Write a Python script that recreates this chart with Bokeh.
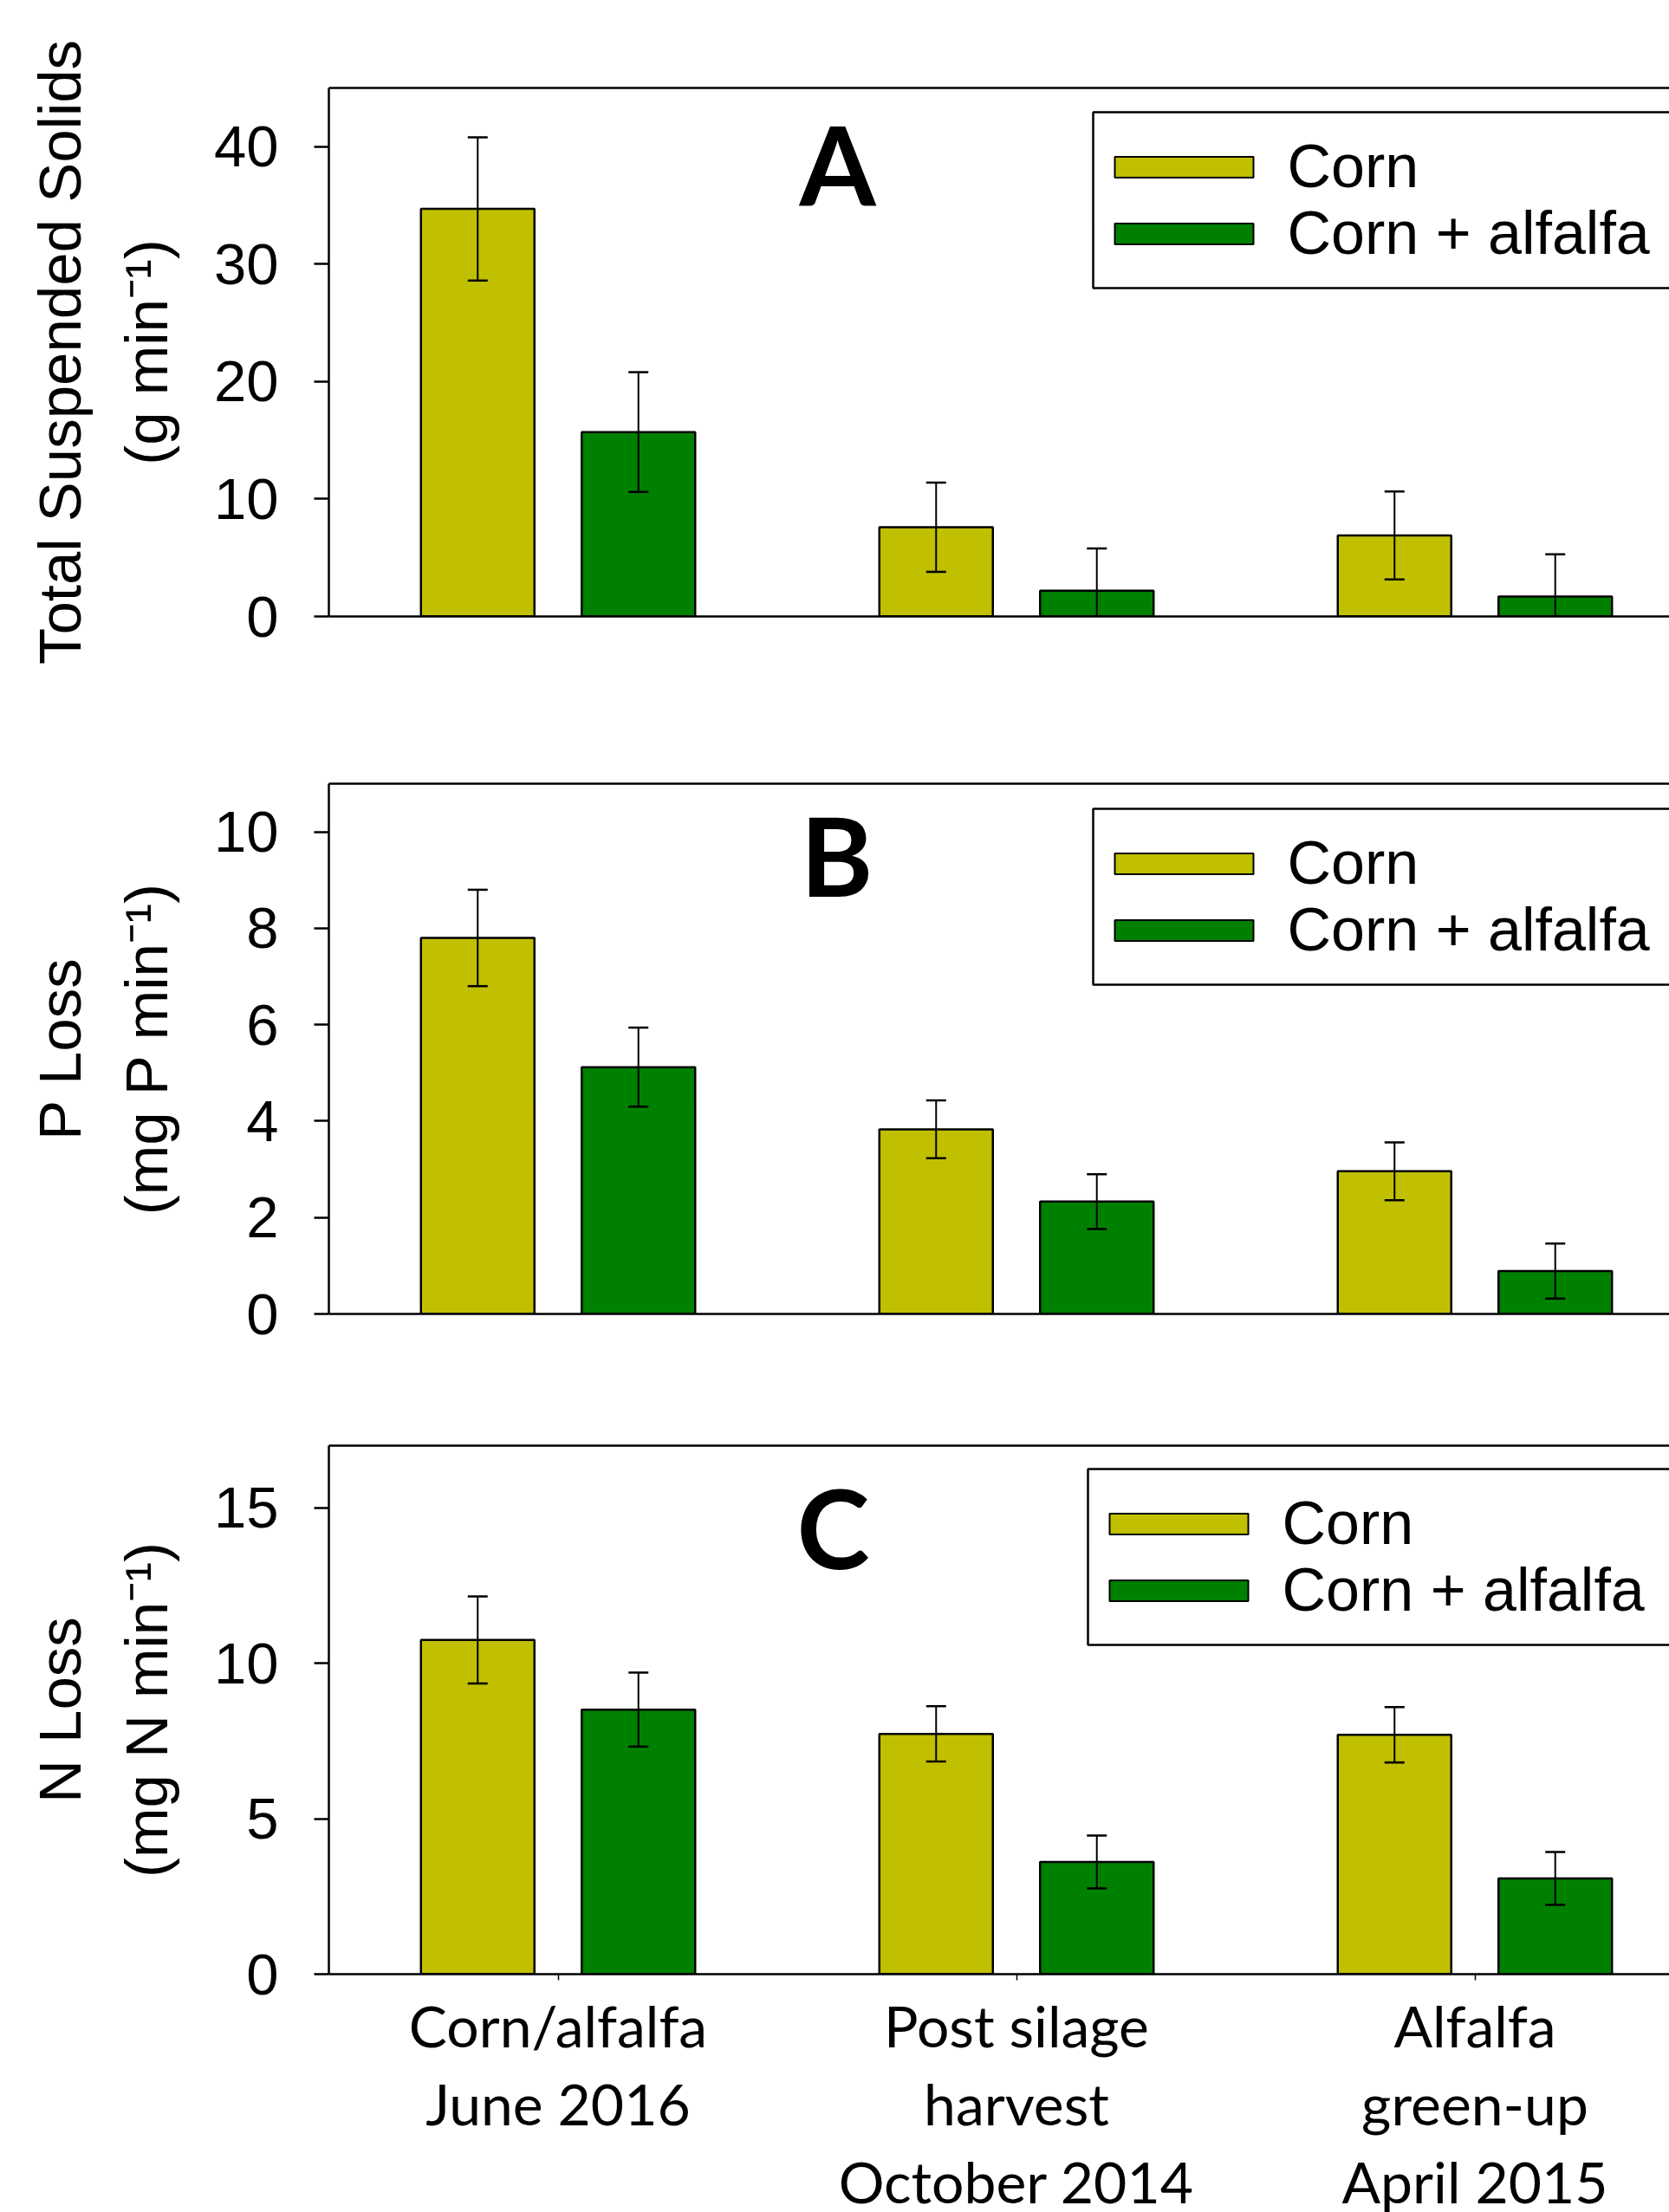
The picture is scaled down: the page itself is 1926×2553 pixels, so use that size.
import numpy as np
from bokeh.plotting import figure
from bokeh.models import (ColumnDataSource, Range1d, FixedTicker, LinearAxis, Whisker,
                          TeeHead, BoxAnnotation, Label)
from bokeh.transform import dodge
from bokeh.layouts import column
from bokeh.embed import file_html
from bokeh.resources import INLINE

# ---------------- data ----------------
categories = ["Corn/alfalfa\nJune 2016",
              "Post silage\nharvest\nOctober 2014",
              "Alfalfa\ngreen-up\nApril 2015"]
series = ["Corn", "Corn + alfalfa"]

tss_corn = [34.7, 7.6, 6.9]
tss_corn_se = [6.1, 3.8, 3.75]
tss_alf = [15.7, 2.2, 1.7]
tss_alf_se = [5.1, 3.6, 3.6]

p_corn = [7.80, 3.83, 2.96]
p_corn_se = [1.00, 0.60, 0.60]
p_alf = [5.12, 2.33, 0.89]
p_alf_se = [0.82, 0.57, 0.57]

n_corn = [10.75, 7.73, 7.70]
n_corn_se = [1.40, 0.89, 0.89]
n_alf = [8.51, 3.61, 3.08]
n_alf_se = [1.19, 0.85, 0.85]

tss_ticks = [0, 10, 20, 30, 40]
p_ticks = [0, 2, 4, 6, 8, 10]
n_ticks = [0, 5, 10, 15]

# ---------------- style ----------------
CORN = "#C0C000"
ALF = "#008000"
CAT_PX = 529.0          # pixels per category
OFF = 0.1753            # bar offset from category centre
BW = 0.2476             # bar width
ARIAL = "Liberation Sans"
CAL = "Lato"
PAGE_W = 1926
LEFT = 379


def make_panel(corn, corn_se, alf, alf_se, ymax, yticks, title, letter,
               top, fh, canvas_top, canvas_bottom, legend_left, legend_top,
               letter_pos, show_x, left=LEFT):
    fw = PAGE_W - left
    p = figure(frame_width=fw, frame_height=fh,
               x_range=Range1d(0, fw / CAT_PX), y_range=Range1d(0, ymax),
               output_backend="svg", toolbar_location=None,
               min_border_left=left, min_border_right=0,
               min_border_top=top - canvas_top,
               min_border_bottom=canvas_bottom - (top + fh),
               outline_line_color=None, background_fill_color="white",
               border_fill_color="white")
    p.grid.visible = False

    xc = np.arange(len(categories)) + 0.5
    corn = np.array(corn); corn_se = np.array(corn_se)
    alf = np.array(alf); alf_se = np.array(alf_se)
    src = ColumnDataSource(dict(
        x=xc, corn=corn, corn_hi=corn + corn_se, corn_lo=np.maximum(corn - corn_se, 0),
        alf=alf, alf_hi=alf + alf_se, alf_lo=np.maximum(alf - alf_se, 0)))

    p.vbar(x=dodge("x", -OFF), top="corn", width=BW, source=src,
           fill_color=CORN, line_color="black", line_width=2.5)
    p.vbar(x=dodge("x", OFF), top="alf", width=BW, source=src,
           fill_color=ALF, line_color="black", line_width=2.5)

    for key, sgn in (("corn", -1), ("alf", 1)):
        w = Whisker(source=src, base=dodge("x", sgn * OFF), upper=key + "_hi",
                    lower=key + "_lo", line_width=2, line_color="black",
                    upper_head=TeeHead(size=23, line_width=2.5, line_color="black"),
                    lower_head=TeeHead(size=23, line_width=2.5, line_color="black"),
                    level="annotation")
        p.add_layout(w)

    # y axis
    ya = p.yaxis[0]
    ya.ticker = FixedTicker(ticks=yticks)
    ya.axis_line_width = 2.5
    ya.major_tick_line_width = 2.5
    ya.major_tick_out = 17
    ya.major_tick_in = 0
    ya.minor_tick_out = 0
    ya.minor_tick_in = 0
    ya.major_label_text_font = ARIAL
    ya.major_label_text_font_size = "67px"
    ya.major_label_text_color = "black"
    ya.major_label_standoff = 41
    ya.axis_label = title
    ya.axis_label_text_font = ARIAL
    ya.axis_label_text_font_size = "69px"
    ya.axis_label_text_font_style = "normal"
    ya.axis_label_text_color = "black"
    ya.axis_label_text_line_height = 1.3
    ya.axis_label_standoff = 36

    # x axis
    xa = p.xaxis[0]
    xa.axis_line_width = 2.5
    xa.minor_tick_out = 0
    xa.minor_tick_in = 0
    if show_x:
        xa.ticker = FixedTicker(ticks=list(xc))
        xa.major_label_overrides = {float(x): c for x, c in zip(xc, categories)}
        xa.major_tick_out = 7
        xa.major_tick_in = 0
        xa.major_tick_line_width = 1.5
        xa.major_label_text_font = CAL
        xa.major_label_text_font_size = "66px"
        xa.major_label_text_color = "black"
        xa.major_label_text_line_height = 1.14
        xa.major_label_standoff = 12
    else:
        xa.ticker = FixedTicker(ticks=[])
        xa.major_tick_out = 0
        xa.major_tick_in = 0

    # top frame line
    ta = LinearAxis(ticker=FixedTicker(ticks=[]), axis_line_width=2.5,
                    major_tick_out=0, major_tick_in=0, minor_tick_out=0,
                    minor_tick_in=0, major_label_text_font_size="0px")
    p.add_layout(ta, "above")

    def sy(page_y):
        return top + fh - page_y

    # panel letter (text middle = baseline - 0.387 em for Lato)
    lx, ly = letter_pos
    p.add_layout(Label(x=lx - left, y=sy(ly - 0.387 * 127), x_units="screen", y_units="screen",
                       text=letter, text_font=CAL, text_font_style="bold",
                       text_font_size="127px", text_align="center",
                       text_baseline="middle", text_color="black"))

    # legend (box, swatches, labels)
    bl = legend_left - left
    p.add_layout(BoxAnnotation(left=bl, right=fw + 40, top=sy(legend_top),
                               bottom=sy(legend_top + 203),
                               left_units="screen", right_units="screen",
                               top_units="screen", bottom_units="screen",
                               fill_color="white", fill_alpha=1.0,
                               line_color="black", line_width=2.5, line_alpha=1.0))
    for i, (name, col) in enumerate(zip(series, [CORN, ALF])):
        cy = legend_top + 63.5 + 77 * i
        p.add_layout(BoxAnnotation(left=bl + 25, right=bl + 185, top=sy(cy - 12),
                                   bottom=sy(cy + 12),
                                   left_units="screen", right_units="screen",
                                   top_units="screen", bottom_units="screen",
                                   fill_color=col, fill_alpha=1.0,
                                   line_color="black", line_width=2, line_alpha=1.0))
        base = legend_top + 87 + 77 * i
        p.add_layout(Label(x=bl + 224, y=sy(base - 0.3465 * 70),
                           x_units="screen", y_units="screen", text=name,
                           text_font=ARIAL, text_font_size="70px",
                           text_align="left", text_baseline="middle",
                           text_color="black"))
    return p


pa = make_panel(tss_corn, tss_corn_se, tss_alf, tss_alf_se, 45, tss_ticks,
                "Total Suspended Solids\n(g min\u207b\u00b9)", "A",
                top=101, fh=610, canvas_top=0, canvas_bottom=800,
                legend_left=1261, legend_top=129, letter_pos=(966, 238), show_x=False)
pb = make_panel(p_corn, p_corn_se, p_alf, p_alf_se, 11, p_ticks,
                "P Loss\n(mg P min\u207b\u00b9)", "B",
                top=904, fh=612, canvas_top=800, canvas_bottom=1590,
                legend_left=1261, legend_top=933, letter_pos=(965, 1035), show_x=False)
pc = make_panel(n_corn, n_corn_se, n_alf, n_alf_se, 17, n_ticks,
                "N Loss\n(mg N min\u207b\u00b9)", "C",
                top=1668, fh=610, canvas_top=1590, canvas_bottom=2553,
                legend_left=1255, legend_top=1695, letter_pos=(961, 1811), show_x=True)

layout = column(pa, pb, pc)
open("out.html", "w").write(file_html(layout, INLINE))
